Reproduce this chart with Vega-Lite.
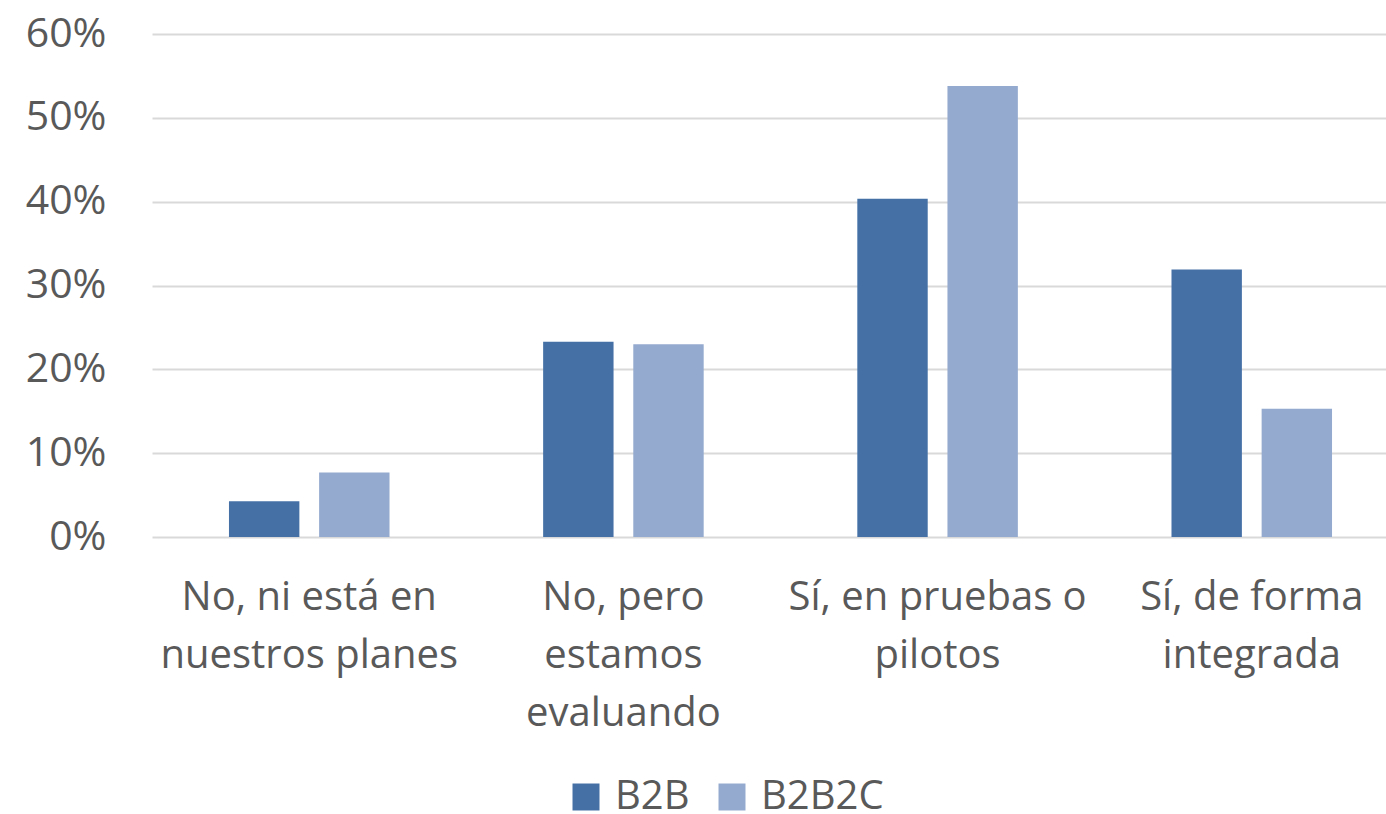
{
  "$schema": "https://vega.github.io/schema/vega-lite/v6.json",
  "width": 1257,
  "height": 503,
  "autosize": {"type": "none"},
  "padding": {"left": 152, "top": 34, "right": 0, "bottom": 277},
  "background": "#ffffff",
  "config": {"view": {"stroke": null}, "font": "Open Sans"},
  "data": {
    "values": [
      {"categoria": "No, ni está en nuestros planes", "serie": "B2B", "valor": 0.0426},
      {"categoria": "No, ni está en nuestros planes", "serie": "B2B2C", "valor": 0.0768},
      {"categoria": "No, pero estamos evaluando", "serie": "B2B", "valor": 0.233},
      {"categoria": "No, pero estamos evaluando", "serie": "B2B2C", "valor": 0.2298},
      {"categoria": "Sí, en pruebas o pilotos", "serie": "B2B", "valor": 0.4036},
      {"categoria": "Sí, en pruebas o pilotos", "serie": "B2B2C", "valor": 0.538},
      {"categoria": "Sí, de forma integrada", "serie": "B2B", "valor": 0.319},
      {"categoria": "Sí, de forma integrada", "serie": "B2B2C", "valor": 0.153}
    ]
  },
  "mark": {"type": "bar"},
  "encoding": {
    "x": {
      "field": "categoria",
      "type": "nominal",
      "sort": null,
      "scale": {"paddingInner": 0.489, "paddingOuter": 0.245},
      "axis": {
        "title": null,
        "labelAngle": 0,
        "domain": false,
        "ticks": false,
        "labelFontSize": 40,
        "labelColor": "#595959",
        "labelPadding": 40,
        "labelLineHeight": 58,
        "labelBaseline": "top",
        "labelLimit": 400,
        "labelExpr": "datum.label == 'No, ni está en nuestros planes' ? ['No, ni está en', 'nuestros planes'] : datum.label == 'No, pero estamos evaluando' ? ['No, pero', 'estamos', 'evaluando'] : datum.label == 'Sí, en pruebas o pilotos' ? ['Sí, en pruebas o', 'pilotos'] : ['Sí, de forma', 'integrada']"
      }
    },
    "xOffset": {
      "field": "serie",
      "type": "nominal",
      "sort": ["B2B", "B2B2C"],
      "scale": {"paddingInner": 0.219, "paddingOuter": 0}
    },
    "y": {
      "field": "valor",
      "type": "quantitative",
      "scale": {"domain": [0, 0.6], "nice": false},
      "axis": {
        "title": null,
        "format": ".0%",
        "values": [0, 0.1, 0.2, 0.3, 0.4, 0.5, 0.6],
        "domain": false,
        "ticks": false,
        "gridColor": "#d9d9d9",
        "gridWidth": 2,
        "labelFontSize": 41,
        "labelColor": "#595959",
        "labelPadding": 46
      }
    },
    "color": {
      "field": "serie",
      "type": "nominal",
      "scale": {"domain": ["B2B", "B2B2C"], "range": ["#4470a6", "#95aacf"]},
      "legend": {
        "title": null,
        "orient": "none",
        "direction": "horizontal",
        "legendX": 414,
        "legendY": 743,
        "padding": 0,
        "symbolType": "square",
        "symbolSize": 729,
        "symbolStrokeWidth": 0,
        "labelFontSize": 40,
        "labelColor": "#595959",
        "labelOffset": 9,
        "columnPadding": 22
      }
    }
  }
}
